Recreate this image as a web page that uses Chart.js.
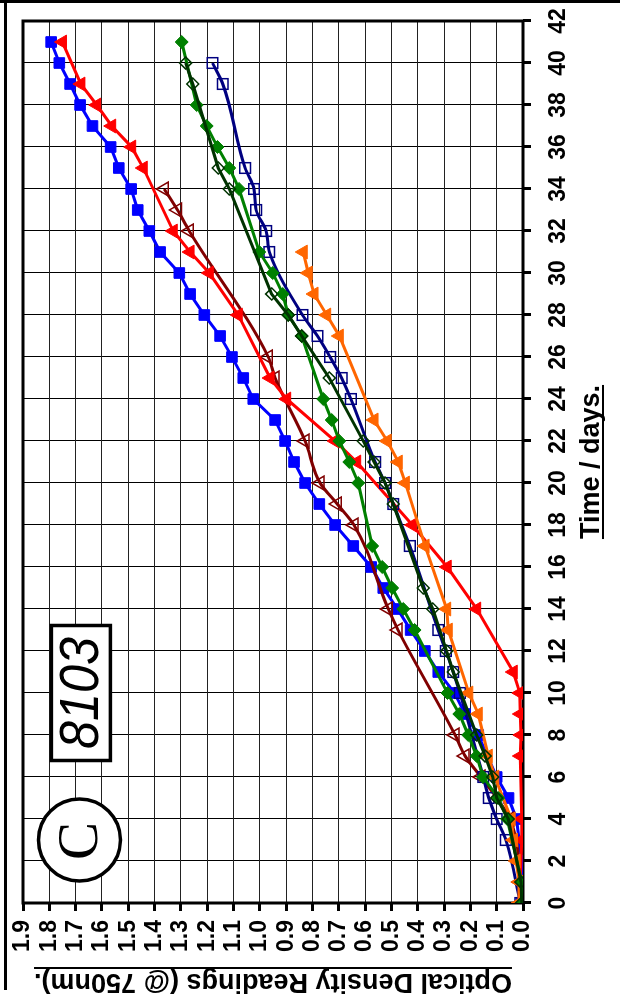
<!DOCTYPE html>
<html>
<head>
<meta charset="utf-8">
<script src="https://cdn.jsdelivr.net/npm/chart.js@4/dist/chart.umd.min.js"></script>
<style>
  html, body { margin: 0; padding: 0; background: #fff; overflow: hidden; }
  /* the chart is laid out landscape and turned a quarter turn anticlockwise */
  #wrap { position: absolute; left: 0; top: 999px; width: 999px; height: 620px;
          transform-origin: 0 0; transform: rotate(-90deg); background: #fff; }
  canvas { display: block; }
</style>
</head>
<body>
<div id="wrap"><canvas id="c" width="999" height="620"></canvas></div>
<script>
// ---- tick labels ----
const timeTickLabels = ['0','2','4','6','8','10','12','14','16','18','20','22','24','26','28','30','32','34','36','38','40','42'];
const odTickLabels = ['0.0','0.1','0.2','0.3','0.4','0.5','0.6','0.7','0.8','0.9','1.0','1.1','1.2','1.3','1.4','1.5','1.6','1.7','1.8','1.9'];

// ---- series (day, optical density at 750 nm) ----
const blueDays = [0,2,4,5,6,8,9,10,11,12,13,14,15,16,17,18,19,20,21,22,23,24,25,26,27,28,29,30,31,32,33,34,35,36,37,38,39,40,41];
const blueOD   = [0.005,0.005,0.025,0.055,0.10,0.17,0.22,0.26,0.322,0.373,0.427,0.477,0.531,0.577,0.645,0.714,0.774,0.828,0.870,0.904,0.942,1.025,1.063,1.106,1.151,1.211,1.265,1.306,1.379,1.42,1.464,1.489,1.536,1.567,1.636,1.683,1.721,1.762,1.793];

const redDays = [0,1,3,4,7,8,9,10,11,14,16,18,21,22,24,25,28,30,31,32,35,36,37,38,39,41];
const redOD   = [0.005,0.01,0.005,0.005,0.01,0.008,0.01,0.012,0.037,0.176,0.288,0.42,0.632,0.714,0.898,0.961,1.082,1.192,1.265,1.329,1.443,1.487,1.563,1.62,1.68,1.75];

const maroonDays = [0,1,4,6,7,8,13,14,18,19,20,22,25,26,32,33,34];
const maroonOD   = [0.01,0.012,0.05,0.16,0.22,0.258,0.475,0.512,0.642,0.706,0.771,0.828,0.942,0.968,1.268,1.313,1.363];

const navyDays = [0,3,4,5,6,10,11,12,13,17,19,20,21,24,25,26,27,28,31,32,33,34,35,39,40];
const navyOD   = [0.01,0.065,0.10,0.13,0.151,0.24,0.265,0.293,0.322,0.43,0.493,0.524,0.562,0.654,0.689,0.733,0.781,0.838,0.964,0.976,1.014,1.022,1.056,1.141,1.18];

const greenDays = [0,1,4,5,6,7,8,9,10,13,14,15,16,17,20,21,22,23,24,27,28,29,30,31,34,35,36,37,38,41];
const greenOD   = [0.005,0.005,0.06,0.094,0.152,0.176,0.208,0.242,0.287,0.412,0.455,0.497,0.535,0.573,0.626,0.66,0.698,0.727,0.759,0.841,0.892,0.913,0.951,1.002,1.079,1.116,1.161,1.202,1.24,1.297];

const darkGreenDays = [0,1,4,5,6,7,8,11,12,14,15,19,20,21,22,25,27,28,29,34,35,39,40];
const darkGreenOD   = [0.005,0.008,0.056,0.10,0.115,0.144,0.176,0.265,0.29,0.343,0.379,0.493,0.524,0.566,0.607,0.736,0.841,0.892,0.955,1.116,1.158,1.255,1.282];

const orangeDays = [0,1,2,3,4,6,7,9,10,13,14,17,20,21,22,23,27,28,29,30,31];
const orangeOD   = [0.015,0.015,0.026,0.036,0.045,0.107,0.132,0.17,0.206,0.284,0.29,0.372,0.447,0.474,0.516,0.566,0.698,0.746,0.794,0.816,0.835];

const FONT = "'Liberation Sans', Arial, sans-serif";

function pts(days, vals) { return days.map((d, i) => ({ x: d, y: vals[i] })); }

function series(label, days, vals, color, style, radius, filled, smooth) {
  return {
    label: label,
    data: pts(days, vals),
    borderColor: color,
    borderWidth: 3,
    pointStyle: style,
    pointRadius: radius,
    pointBorderColor: color,
    pointBorderWidth: filled ? 1 : 1.5,
    pointBackgroundColor: filled ? color : 'rgba(0,0,0,0)',
    cubicInterpolationMode: smooth ? 'monotone' : 'default',
    tension: 0,
    fill: false
  };
}

// first in the list is painted on top
const datasets = [
  series('open diamonds', darkGreenDays, darkGreenOD, '#003300', 'rectRot', 6, false, false),
  series('green diamonds', greenDays, greenOD, '#008000', 'rectRot', 6.5, true, false),
  series('orange triangles', orangeDays, orangeOD, '#ff6600', 'triangle', 8, true, false),
  series('open squares', navyDays, navyOD, '#000080', 'rect', 7.5, false, true),
  series('red triangles', redDays, redOD, '#ff0000', 'triangle', 8, true, false),
  series('open triangles', maroonDays, maroonOD, '#800000', 'triangle', 8, false, true),
  series('blue squares', blueDays, blueOD, '#0000ff', 'rect', 7.5, true, false)
];

const decor = {
  id: 'decor',
  beforeDatasetsDraw(chart) {
    const { ctx, chartArea: a } = chart;
    ctx.save();
    ctx.lineWidth = 3;
    ctx.strokeStyle = '#000';
    ctx.strokeRect(a.left, a.top, a.right - a.left, a.bottom - a.top);
    ctx.restore();
  },
  afterDraw(chart) {
    const { ctx, chartArea: a, scales } = chart;
    ctx.save();
    ctx.fillStyle = '#000';
    ctx.strokeStyle = '#000';

    // page rules
    ctx.fillRect(996, 0, 3, 620);
    ctx.fillRect(9, 4, 990, 3);

    // axis titles, underlined
    ctx.font = 'bold 27px ' + FONT;
    ctx.textAlign = 'center';
    ctx.textBaseline = 'alphabetic';
    const tTitle = 'Time / days.';
    const tx = (a.left + a.right) / 2, ty = 599;
    ctx.fillText(tTitle, tx, ty);
    let w = ctx.measureText(tTitle).width;
    ctx.fillRect(tx - w / 2, ty + 3, w, 2);

    const yTitle = 'Optical Density Readings (@ 750nm).';
    ctx.translate(25, (a.top + a.bottom) / 2);
    ctx.rotate(-Math.PI / 2);
    ctx.fillText(yTitle, 0, 0);
    w = ctx.measureText(yTitle).width;
    ctx.fillRect(-w / 2, 5, w, 2);
    ctx.setTransform(1, 0, 0, 1, 0, 0);

    // circled panel letter
    const cx = scales.x.getPixelForValue(3.0), cy = scales.y.getPixelForValue(1.685);
    ctx.beginPath();
    ctx.arc(cx, cy, 41, 0, Math.PI * 2);
    ctx.fillStyle = '#fff';
    ctx.fill();
    ctx.lineWidth = 3.5;
    ctx.stroke();
    ctx.fillStyle = '#000';
    ctx.font = '57px "Liberation Serif", "Times New Roman", serif';
    ctx.textAlign = 'center';
    ctx.textBaseline = 'middle';
    ctx.fillText('C', cx - 1, cy + 2);

    // boxed strain number
    const bx = scales.x.getPixelForValue(10.0), by = scales.y.getPixelForValue(1.68);
    const bw = 135, bh = 59;
    ctx.fillStyle = '#fff';
    ctx.fillRect(bx - bw / 2, by - bh / 2, bw, bh);
    ctx.lineWidth = 3.5;
    ctx.strokeRect(bx - bw / 2, by - bh / 2, bw, bh);
    ctx.fillStyle = '#000';
    ctx.font = 'italic 56px ' + FONT;
    ctx.translate(bx, by + 2);
    ctx.scale(0.9, 1);
    ctx.fillText('8103', 0, 0);
    ctx.restore();
  }
};

new Chart(document.getElementById('c'), {
  type: 'line',
  data: { datasets: datasets },
  options: {
    responsive: false,
    animation: false,
    devicePixelRatio: 1,
    layout: { padding: { left: 0, top: 23, right: 21, bottom: 0 } },
    plugins: { legend: { display: false }, tooltip: { enabled: false } },
    scales: {
      x: {
        type: 'linear', position: 'bottom', min: 0, max: 42,
        afterFit(s) { s.height = 97; s.paddingRight = 0; s.paddingLeft = 0; },
        border: { display: false },
        grid: { color: '#000', lineWidth: 1, drawTicks: true, tickLength: 8, tickWidth: 3, tickColor: '#000' },
        ticks: {
          stepSize: 2, autoSkip: false, maxRotation: 0, minRotation: 0, padding: 14, color: '#000',
          font: { family: FONT, size: 23, weight: 'bold' },
          callback: (v) => timeTickLabels[Math.round(v / 2)]
        }
      },
      y: {
        type: 'linear', position: 'left', min: 0, max: 1.9,
        afterFit(s) { s.width = 96; s.paddingTop = 0; s.paddingBottom = 0; },
        border: { display: false },
        grid: { color: '#222', lineWidth: 1, drawTicks: true, tickLength: 8, tickWidth: 3, tickColor: '#000' },
        ticks: {
          stepSize: 0.1, autoSkip: false, padding: 9, color: '#000',
          font: { family: FONT, size: 23, weight: 'bold' },
          callback: (v) => odTickLabels[Math.round(v * 10)]
        }
      }
    }
  },
  plugins: [decor]
});
</script>
</body>
</html>
